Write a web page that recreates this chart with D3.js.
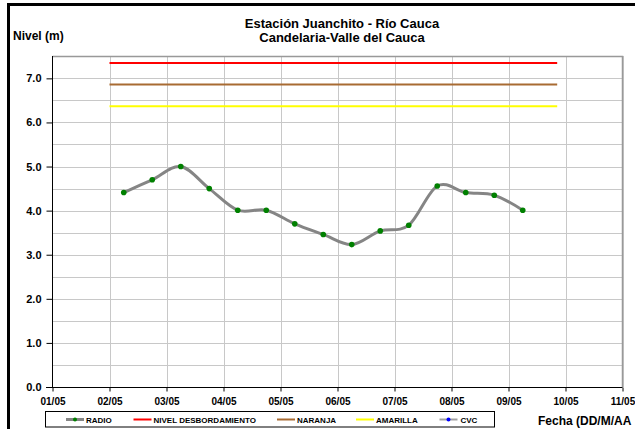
<!DOCTYPE html>
<html><head><meta charset="utf-8">
<script src="https://cdn.jsdelivr.net/npm/d3@7"></script>
<style>body{margin:0;background:#fff}svg{display:block}text{font-family:"Liberation Sans",Arial,sans-serif;font-weight:bold}</style>
</head><body>
<script>
const radioDates = ["02/05 06:00","02/05 18:00","03/05 06:00","03/05 18:00","04/05 06:00","04/05 18:00","05/05 06:00","05/05 18:00","06/05 06:00","06/05 18:00","07/05 06:00","07/05 18:00","08/05 06:00","08/05 18:00","09/05 06:00"];
const radioValues = [4.41, 4.70, 5.00, 4.50, 4.01, 4.01, 3.70, 3.46, 3.23, 3.54, 3.67, 4.56, 4.41, 4.35, 4.01];
const thresholdNames = ["NIVEL DESBORDAMIENTO","NARANJA","AMARILLA"];
const thresholdValues = [7.35, 6.86, 6.37];
const thresholdColors = ["#ff0000","#a86b32","#ffff00"];
const thresholdSpan = ["02/05 00:00","09/05 20:30"];
const xTickLabels = ["01/05","02/05","03/05","04/05","05/05","06/05","07/05","08/05","09/05","10/05","11/05"];
const yTicks = [0,1,2,3,4,5,6,7];
const legendItems = ["RADIO","NIVEL DESBORDAMIENTO","NARANJA","AMARILLA","CVC"];

const W=635,H=429;
const parse = d3.timeParse("%d/%m %H:%M");
const svg = d3.select("body").append("svg").attr("width",W).attr("height",H);

// outer frame
svg.append("rect").attr("x",8.5).attr("y",4.5).attr("width",800).attr("height",600)
  .attr("fill","none").attr("stroke","#000").attr("stroke-width",3);

const x = d3.scaleTime().domain([parse("01/05 00:00"), parse("11/05 00:00")]).range([52.5, 622.5]);
const y = d3.scaleLinear().domain([0,7.5]).range([387, 56.3]);

// grid
const g = svg.append("g");
g.selectAll(".hg").data(d3.range(0.5,7.51,0.5)).join("line")
  .attr("x1",52.5).attr("x2",622.5).attr("y1",d=>Math.round(y(d))+0.5).attr("y2",d=>Math.round(y(d))+0.5)
  .attr("stroke","#c8c8c8").attr("stroke-width",1);
const xDates = xTickLabels.map(s=>parse(s+" 00:00"));
g.selectAll(".vg").data(xDates.slice(1)).join("line")
  .attr("x1",d=>Math.round(x(d))+0.5).attr("x2",d=>Math.round(x(d))+0.5).attr("y1",56).attr("y2",387)
  .attr("stroke","#c8c8c8").attr("stroke-width",1);
// top/right border
svg.append("path").attr("d",`M52.5,56.5H622.5V387`).attr("fill","none").attr("stroke","#999").attr("stroke-width",1.5);

// axes
const yAxis = d3.axisLeft(y).tickValues(yTicks).tickFormat(d3.format(".1f")).tickSize(6).tickPadding(5);
const ya = svg.append("g").attr("transform","translate(52.5,0)").call(yAxis);
ya.select(".domain").attr("stroke","#000").attr("d","M0,56V387.5");
ya.selectAll("text").style("font-size","11px").attr("fill","#000");
const xAxis = d3.axisBottom(x).tickValues(xDates).tickFormat(d3.timeFormat("%d/%m")).tickSize(4).tickSizeOuter(0).tickPadding(6);
const xa = svg.append("g").attr("transform","translate(0,387.5)").call(xAxis);
xa.selectAll("text").style("font-size","10px").attr("fill","#000");
xa.select(".domain").attr("stroke","#000").attr("d","M46,0H622.5");

// thresholds
svg.selectAll(".th").data(thresholdValues).join("line")
  .attr("x1",x(parse(thresholdSpan[0]))).attr("x2",x(parse(thresholdSpan[1])))
  .attr("y1",d=>y(d)).attr("y2",d=>y(d))
  .attr("stroke",(d,i)=>thresholdColors[i]).attr("stroke-width",2);

// radio line
const pts = radioDates.map((d,i)=>({t:parse(d),v:radioValues[i]}));
svg.append("path").datum(pts)
  .attr("d",d3.line().x(d=>x(d.t)).y(d=>y(d.v)).curve(d3.curveCatmullRom.alpha(0)))
  .attr("fill","none").attr("stroke","#858585").attr("stroke-width",3);
svg.selectAll(".pt").data(pts).join("circle")
  .attr("cx",d=>x(d.t)).attr("cy",d=>y(d.v)).attr("r",2.8).attr("fill","#008000");

// titles
svg.append("text").attr("x",342).attr("y",28).attr("text-anchor","middle").style("font-size","13px").text("Estación Juanchito - Río Cauca");
svg.append("text").attr("x",342).attr("y",41.5).attr("text-anchor","middle").style("font-size","13px").text("Candelaria-Valle del Cauca");
svg.append("text").attr("x",13).attr("y",39.5).style("font-size","12px").text("Nivel (m)");
svg.append("text").attr("x",538).attr("y",425).style("font-size","12px").text("Fecha (DD/M/AA");

// legend
svg.append("rect").attr("x",45.5).attr("y",411.5).attr("width",449).attr("height",15.5).attr("fill","#fff").attr("stroke","#000").attr("stroke-width",1);
const lgX = [66,133.5,277,356,439.5];
const lgColors = ["#858585",thresholdColors[0],thresholdColors[1],thresholdColors[2],"#a0a0a0"];
const lg = svg.selectAll(".lg").data(legendItems).join("g").attr("transform",(d,i)=>`translate(${lgX[i]},419.5)`);
lg.append("line").attr("x1",0).attr("x2",18).attr("stroke",(d,i)=>lgColors[i]).attr("stroke-width",(d,i)=>i==0?3:2);
lg.filter((d,i)=>i==0).append("circle").attr("cx",9).attr("r",2).attr("fill","#008000");
lg.filter((d,i)=>i==4).append("circle").attr("cx",9).attr("r",2).attr("fill","#0000ff");
lg.append("text").attr("x",(d,i)=>i==4?21:20).attr("y",3).style("font-size","8px").text(d=>d);
</script>
</body></html>
